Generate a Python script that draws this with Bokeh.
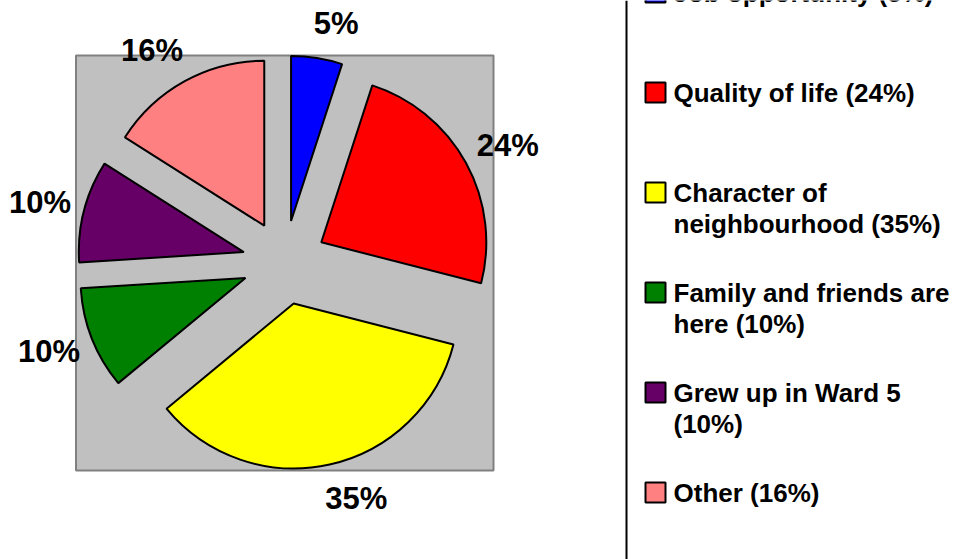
import numpy as np
from bokeh.plotting import figure
from bokeh.models import Range1d, Span
from bokeh.core.properties import value
from bokeh.embed import file_html
from bokeh.resources import INLINE

# ---- data ----
categories = ["Job opportunity", "Quality of life", "Character of neighbourhood",
              "Family and friends are here", "Grew up in Ward 5", "Other"]
legend_labels = ["Job opportunity (5%)", "Quality of life (24%)",
                 "Character of\nneighbourhood (35%)", "Family and friends are\nhere (10%)",
                 "Grew up in Ward 5\n(10%)", "Other (16%)"]
shares = [5, 24, 35, 10, 10, 16]
pct_labels = ["5%", "24%", "35%", "10%", "10%", "16%"]
colors = ["#0000FF", "#FF0000", "#FFFF00", "#008000", "#660066", "#FF8080"]

# ---- layout ----
W, H = 958, 559
FONT = value("Liberation Sans")

p = figure(width=W, height=H, x_range=Range1d(0, W), y_range=Range1d(-H, 0),
           output_backend="svg", toolbar_location=None, min_border=0,
           x_axis_type=None, y_axis_type=None)
p.grid.visible = False
p.outline_line_color = None
p.background_fill_color = "white"
p.border_fill_color = "white"

# plot area (grey)
p.quad(left=[75.5], right=[493], top=[-55], bottom=[-470],
       fill_color="#C0C0C0", line_color="#808080", line_width=2)

# pie geometry
cx, cy, r, d = 284.0, -262.0, 165.0, 42.0
vals = np.array(shares, dtype=float)
frac = vals / vals.sum()
cum = np.concatenate([[0.0], np.cumsum(frac)])
start = np.pi / 2 - 2 * np.pi * cum[1:]
end = np.pi / 2 - 2 * np.pi * cum[:-1]
mid = (start + end) / 2
wx = cx + d * np.cos(mid)
wy = cy + d * np.sin(mid)
p.wedge(x=wx, y=wy, radius=r, start_angle=start, end_angle=end,
        fill_color=colors, line_color="black", line_width=2)

# percentage labels outside slices
lab_size = 31
cw = {"%": 0.889}
half_w = np.array([sum(cw.get(ch, 0.556) for ch in s) for s in pct_labels]) * 0.5 * lab_size
half_h = 12.0
R_lab = 230.0
lx = cx + R_lab * np.cos(mid) + 0.7 * half_w * np.sign(np.cos(mid))
ly = cy + R_lab * np.sin(mid) + half_h * np.sin(mid)
p.text(x=lx, y=ly, text=pct_labels, text_font=FONT, text_font_style="bold",
       text_font_size=f"{lab_size}px", text_align="center", text_baseline="middle",
       text_color="black")

# legend (manual)
p.add_layout(Span(location=626, dimension="height", line_color="black", line_width=2))
n = len(categories)
sq_y = np.array([-(-8 + 100 * i) for i in range(n)], dtype=float)
p.rect(x=[655] * n, y=sq_y, width=20, height=20, fill_color=colors,
       line_color="black", line_width=2)
tx, ty, tt = [], [], []
for i, lab in enumerate(legend_labels):
    for j, line in enumerate(lab.split("\n")):
        tx.append(673)
        ty.append(sq_y[i] - 31 * j)
        tt.append(line)
p.text(x=tx, y=ty, text=tt, text_font=FONT, text_font_style="bold",
       text_font_size="26px", text_align="left", text_baseline="middle",
       text_color="black")

open("out.html", "w").write(file_html(p, INLINE))
